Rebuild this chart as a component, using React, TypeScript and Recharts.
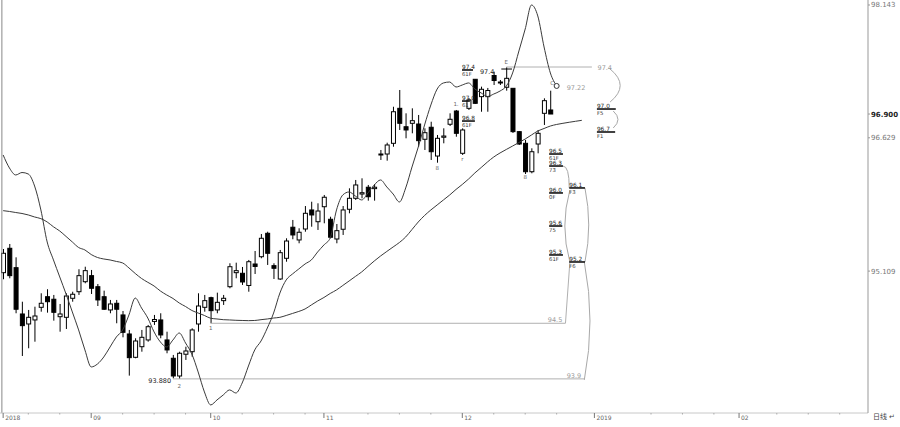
import React from "react";
import {
  ComposedChart,
  Bar,
  Line,
  XAxis,
  YAxis,
  ReferenceLine,
  ReferenceDot,
  ReferenceArea,
} from "recharts";

// daily bars, mid Aug 2018 to mid Dec 2018 (slot index = trading day)
const opens = [
  95.091, 95.369, 95.148, 94.62, 94.506, 94.552, 94.696, 94.817, 94.788, 94.589,
  94.582, 94.799, 94.874, 94.988, 95.057, 94.931, 94.817, 94.666, 94.742, 94.609,
  94.392, 94.126, 94.247, 94.324, 94.535, 94.552, 94.324, 94.115, 93.913, 94.161,
  94.19, 94.506, 94.696, 94.806, 94.666, 94.772, 94.931, 95.091, 95.084, 94.945,
  95.19, 95.273, 95.54, 95.171, 95.019, 95.255, 95.609, 95.464, 95.589, 95.806,
  95.672, 95.843, 95.7, 95.475, 95.586, 95.814, 95.939, 95.988, 96.065, 96.049,
  96.433, 96.444, 96.566, 96.965, 96.755, 96.794, 96.786, 96.612, 96.749, 96.421,
  96.635, 96.783, 96.934, 96.452, 96.965, 97.296, 97.098, 97.098, 97.339, 97.265,
  97.205, 97.193, 96.699, 96.566, 96.242, 96.558, 96.908, 96.946,
];
const highs = [
  95.361, 95.418, 95.266, 94.76, 94.666, 94.703, 94.856, 94.902, 94.837, 94.734,
  94.856, 94.874, 95.13, 95.159, 95.122, 94.962, 94.886, 94.78, 94.78, 94.654,
  94.438, 94.343, 94.438, 94.495, 94.609, 94.628, 94.418, 94.153, 94.19, 94.247,
  94.457, 94.856, 94.837, 94.817, 94.863, 94.837, 95.198, 95.205, 95.156, 95.236,
  95.338, 95.532, 95.558, 95.198, 95.35, 95.483, 95.692, 95.597, 95.851, 95.9,
  95.882, 95.977, 95.729, 95.646, 95.851, 96.053, 96.148, 96.167, 96.091, 96.102,
  96.49, 96.573, 96.983, 97.174, 96.908, 96.965, 96.889, 96.737, 96.812, 96.661,
  96.737, 96.908, 96.946, 96.737, 97.083, 97.299, 97.212, 97.197, 97.383, 97.288,
  97.433, 97.193, 96.706, 96.604, 96.509, 96.718, 97.079, 97.166,
];
const lows = [
  95.016, 95.027, 94.628, 94.141, 94.229, 94.304, 94.646, 94.635, 94.544, 94.418,
  94.449, 94.76, 94.837, 94.97, 94.848, 94.711, 94.666, 94.628, 94.514, 94.354,
  93.917, 94.115, 94.19, 94.304, 94.495, 94.343, 94.172, 93.885, 93.88, 94.096,
  94.133, 94.418, 94.646, 94.514, 94.628, 94.723, 94.913, 95.027, 94.951, 94.874,
  95.076, 95.255, 95.179, 95.019, 95.008, 95.216, 95.472, 95.426, 95.558, 95.615,
  95.578, 95.654, 95.483, 95.426, 95.521, 95.768, 95.92, 95.939, 95.912, 95.912,
  96.376, 96.368, 96.527, 96.718, 96.623, 96.68, 96.527, 96.49, 96.376, 96.345,
  96.566, 96.763, 96.641, 96.433, 96.946, 97.014, 96.926, 96.926, 97.231, 97.231,
  97.166, 96.684, 96.547, 96.216, 96.224, 96.452, 96.775, 96.9,
];
const closes = [
  95.312, 95.057, 94.674, 94.487, 94.582, 94.597, 94.742, 94.76, 94.639, 94.62,
  94.825, 94.845, 95.057, 95.114, 94.913, 94.78, 94.674, 94.734, 94.674, 94.411,
  94.122, 94.312, 94.354, 94.475, 94.557, 94.381, 94.21, 93.913, 94.172, 94.198,
  94.438, 94.711, 94.772, 94.658, 94.753, 94.799, 95.159, 95.114, 94.985, 95.216,
  95.162, 95.483, 95.312, 95.141, 95.319, 95.452, 95.521, 95.552, 95.768, 95.749,
  95.794, 95.951, 95.495, 95.57, 95.806, 95.939, 96.091, 96.003, 95.957, 96.065,
  96.444, 96.547, 96.926, 96.794, 96.718, 96.824, 96.596, 96.687, 96.47, 96.623,
  96.649, 96.84, 96.68, 96.718, 97.06, 97.022, 97.182, 97.168, 97.282, 97.254,
  97.307, 96.699, 96.558, 96.242, 96.47, 96.68, 97.052, 96.9,
];

// fast (displaced) average, ends in the projected slot
const fastLine = [
  96.433, 96.285, 96.205, 96.233, 96.216, 96.079, 95.806, 95.441, 95.236, 95.042,
  94.848, 94.643, 94.438, 94.21, 94.016, 94.05, 94.13, 94.244, 94.358, 94.438,
  94.609, 94.802, 94.688, 94.574, 94.415, 94.301, 94.244, 94.324, 94.403, 94.289,
  94.164, 93.959, 93.731, 93.583, 93.64, 93.697, 93.754, 93.719, 93.833, 94.027,
  94.21, 94.312, 94.46, 94.631, 94.859, 95.008, 95.076, 95.133, 95.19, 95.236,
  95.327, 95.407, 95.487, 95.806, 95.977, 96.011, 95.965, 95.92, 96.0, 96.091,
  96.148, 96.068, 95.988, 95.897, 96.057, 96.296, 96.524, 96.775, 97.003, 97.185,
  97.254, 97.265, 97.208, 97.231, 97.254, 97.185, 97.14, 97.1, 97.128, 97.162,
  97.219, 97.368, 97.619, 97.869, 98.143, 98.018, 97.664, 97.368, 97.22,
];
// slow moving average, shifted forward a few slots
const slowLine = [
  95.798, 95.789, 95.777, 95.766, 95.749, 95.726, 95.707, 95.669, 95.614, 95.566,
  95.504, 95.441, 95.378, 95.35, 95.298, 95.264, 95.247, 95.236, 95.219, 95.202,
  95.145, 95.082, 95.025, 94.981, 94.939, 94.882, 94.837, 94.797, 94.745, 94.705,
  94.66, 94.631, 94.603, 94.571, 94.563, 94.555, 94.552, 94.548, 94.546, 94.544,
  94.546, 94.555, 94.563, 94.574, 94.582, 94.603, 94.626, 94.649, 94.677, 94.723,
  94.768, 94.808, 94.854, 94.894, 94.945, 94.996, 95.048, 95.099, 95.162, 95.224,
  95.281, 95.333, 95.384, 95.435, 95.498, 95.583, 95.669, 95.743, 95.806, 95.863,
  95.92, 95.977, 96.04, 96.097, 96.159, 96.228, 96.29, 96.353, 96.41, 96.456,
  96.496, 96.535, 96.575, 96.615, 96.661, 96.706, 96.735, 96.763, 96.781, 96.794,
  96.806, 96.817, 96.828,
];

const SLOTS = 138;
const monthTickIdx = [0, 14, 33, 51, 73, 94, 117];
const monthLabels = ["2018", "09", "10", "11", "12", "2019", "02"];
const weekTickIdx = [4, 9, 19, 24, 29, 38, 43, 48, 58, 63, 68, 78, 83, 88, 103, 108, 113, 123, 128, 133];
const priceTicks = [95.109, 96.629, 96.9, 98.143];
const lastPrice = 96.9;

// gray support / resistance guides
const guides = [
  { from: 80, to: 93.6, price: 97.436 },
  { from: 33, to: 89.4, price: 94.514 },
  { from: 27, to: 92.4, price: 93.88 },
];
const guideLabels = [
  { text: "97.4", at: 94.5, price: 97.436, anchor: "start", dy: 2.5 },
  { text: "97.22", at: 89.6, price: 97.197, anchor: "start", dy: 2.5 },
  { text: "94.5", at: 88.9, price: 94.514, anchor: "end", dy: -1 },
  { text: "93.9", at: 91.9, price: 93.88, anchor: "end", dy: -1 },
];
// retracement tags: number over a thick rule, code under it
const fibTags = [
  { num: "97.4", code: "61F", from: 72.95, to: 74.7, price: 97.402 },
  { num: "97.0", code: "61", from: 72.95, to: 74.2, price: 97.048 },
  { num: "96.8", code: "61F", from: 72.95, to: 75.0, price: 96.82 },
  { num: "97.0", code: "F5", from: 94.4, to: 97.4, price: 96.957 },
  { num: "96.7", code: "F1", from: 94.4, to: 97.3, price: 96.695 },
  { num: "96.5", code: "61F", from: 86.8, to: 89.0, price: 96.444 },
  { num: "96.3", code: "73", from: 86.8, to: 89.0, price: 96.307 },
  { num: "96.0", code: "0F", from: 86.8, to: 89.0, price: 96.0 },
  { num: "95.6", code: "75", from: 86.8, to: 88.9, price: 95.623 },
  { num: "95.3", code: "61F", from: 86.8, to: 89.0, price: 95.293 },
  { num: "96.1", code: "F3", from: 90.0, to: 92.5, price: 96.057 },
  { num: "95.2", code: "F6", from: 90.0, to: 92.5, price: 95.213 },
];
const darkNotes = [
  { text: "97.4", at: 75.8, price: 97.38, anchor: "start" },
  { text: "93.880", at: 26.7, price: 93.865, anchor: "end" },
];
const smallMarks = [
  { text: "E", at: 80, price: 97.49 },
  { text: "C", at: 87.3, price: 97.25 },
  { text: "8", at: 83, price: 96.18 },
  { text: "r", at: 73, price: 96.39 },
  { text: "1.", at: 72, price: 97.01 },
  { text: "8", at: 69, price: 96.29 },
  { text: "1", at: 33, price: 94.46 },
  { text: "2", at: 28, price: 93.8 },
];
const brackets = [
  { x1: 96.5, x2: 98.1, lo: 97.037, hi: 97.413, kind: "R" },
  { x1: 97.0, x2: 97.75, lo: 96.741, hi: 96.934, kind: "R" },
  { x1: 89.0, x2: 90.0, lo: 96.057, hi: 96.307, kind: "D" },
  { x1: 89.3, x2: 90.1, lo: 95.213, hi: 96.034, kind: "L" },
  { x1: 92.5, x2: 93.1, lo: 95.213, hi: 96.057, kind: "R" },
  { x1: 92.4, x2: 93.3, lo: 93.868, hi: 95.213, kind: "R" },
];

const rows = Array.from({ length: SLOTS }, (_, i) => ({
  i,
  o: opens[i] ?? null,
  h: highs[i] ?? null,
  l: lows[i] ?? null,
  c: closes[i] ?? null,
  fast: fastLine[i] ?? null,
  slow: slowLine[i] ?? null,
}));

function Candle(props: any) {
  const { x, y, width, height, payload } = props;
  if (!payload || payload.h == null || !isFinite(y) || !isFinite(height)) return null;
  const { o, h, l, c } = payload;
  const top = Math.min(y, y + height);
  const bot = Math.max(y, y + height);
  const span = h - l || 1;
  const py = (v: number) => top + ((h - v) / span) * (bot - top);
  const cx = x + width / 2;
  const up = c >= o;
  const bTop = py(Math.max(o, c));
  const bBot = py(Math.min(o, c));
  return (
    <g>
      <line x1={cx} x2={cx} y1={top} y2={bot} stroke="#000" strokeWidth={1} />
      <rect
        x={x + 0.5}
        y={bTop}
        width={width - 1}
        height={Math.max(1, bBot - bTop)}
        fill={up ? "#fff" : "#000"}
        stroke="#000"
        strokeWidth={1}
      />
    </g>
  );
}

function XTick(props: any) {
  const { x, y, payload } = props;
  const k = monthTickIdx.indexOf(payload.value);
  if (k < 0) return <line x1={x} x2={x} y1={y} y2={y + 1.5} stroke="#aaa" />;
  return (
    <g>
      <line x1={x} x2={x} y1={y} y2={y + 5} stroke="#777" />
      <text x={x + 2} y={y + 7} fontSize={6} fill="#666">
        {monthLabels[k]}
      </text>
    </g>
  );
}

function YTick(props: any) {
  const { x, y, payload } = props;
  const cur = payload.value === lastPrice;
  return (
    <text x={x} y={y} dy={2.5} fontSize={7} fill={cur ? "#222" : "#777"} fontWeight={cur ? "bold" : "normal"}>
      {payload.value.toFixed(3)}
    </text>
  );
}

function bracketPath(kind: string, x: number, y: number, w: number, h: number) {
  if (kind === "L") return `M${x + w},${y} Q${x - w},${y + h / 2} ${x + w},${y + h}`;
  if (kind === "D") return `M${x},${y} Q${x + w},${y} ${x + w},${y + h}`;
  return `M${x},${y} Q${x + 2 * w},${y + h / 2} ${x},${y + h}`;
}

export default function App() {
  return (
    <div
      style={{
        position: "relative",
        width: 900,
        height: 427,
        background: "#fff",
        fontFamily: '"DejaVu Sans", sans-serif',
      }}
    >
      <style>{"body{margin:0}"}</style>
      <ComposedChart width={900} height={427} data={rows} margin={{ top: 0, right: 0, bottom: 0, left: 0 }}>
        <XAxis
          dataKey="i"
          type="number"
          domain={[-0.5, SLOTS - 0.5]}
          ticks={[...monthTickIdx, ...weekTickIdx].sort((a, b) => a - b)}
          interval={0}
          tick={<XTick />}
          tickLine={false}
          tickSize={0}
          tickMargin={0}
          axisLine={{ stroke: "#c8c8c8" }}
          height={14}
          allowDataOverflow
        />
        <YAxis
          orientation="right"
          type="number"
          domain={[93.491, 98.2]}
          ticks={priceTicks}
          interval={0}
          width={32}
          tick={<YTick />}
          tickSize={2}
          tickMargin={1}
          tickLine={{ stroke: "#999" }}
          axisLine={{ stroke: "#999" }}
          allowDataOverflow
        />
        <ReferenceLine x={-0.2} stroke="#888" />

        {guides.map((g, k) => (
          <ReferenceLine
            key={"g" + k}
            segment={[
              { x: g.from, y: g.price },
              { x: g.to, y: g.price },
            ]}
            stroke="#b0b0b0"
            ifOverflow="visible"
          />
        ))}
        <ReferenceLine
          segment={[
            { x: 90.1, y: 95.213 },
            { x: 89.4, y: 94.514 },
          ]}
          stroke="#b0b0b0"
          ifOverflow="visible"
        />
        {brackets.map((b, k) => (
          <ReferenceArea
            key={"b" + k}
            x1={b.x1}
            x2={b.x2}
            y1={b.lo}
            y2={b.hi}
            ifOverflow="visible"
            shape={(p: any) => (
              <path d={bracketPath(b.kind, p.x, p.y, p.width, p.height)} fill="none" stroke="#a8a8a8" strokeWidth={1} />
            )}
          />
        ))}

        <Bar
          dataKey={(d: any) => (d.h == null ? null : [d.l, d.h])}
          barSize={5}
          shape={<Candle />}
          isAnimationActive={false}
        />
        <Line
          dataKey="slow"
          type="monotone"
          stroke="#3a3a3a"
          strokeWidth={1}
          dot={false}
          activeDot={false}
          connectNulls
          isAnimationActive={false}
        />
        <Line
          dataKey="fast"
          type="monotone"
          stroke="#3a3a3a"
          strokeWidth={1}
          dot={false}
          activeDot={false}
          connectNulls
          isAnimationActive={false}
        />
        <ReferenceDot x={fastLine.length - 1} y={fastLine[fastLine.length - 1]} r={2.5} fill="#fff" stroke="#333" />
        <ReferenceLine
          segment={[
            { x: 79.2, y: 97.413 },
            { x: 80.9, y: 97.413 },
          ]}
          stroke="#000"
          ifOverflow="visible"
        />

        {fibTags.map((t, k) => (
          <ReferenceLine
            key={"fl" + k}
            segment={[
              { x: t.from, y: t.price },
              { x: t.to, y: t.price },
            ]}
            stroke="#111"
            strokeWidth={1.6}
            ifOverflow="visible"
          />
        ))}
        {fibTags.map((t, k) => (
          <ReferenceDot
            key={"ft" + k}
            x={t.from}
            y={t.price}
            r={1}
            ifOverflow="visible"
            shape={(p: any) => (
              <g>
                <text x={p.cx} y={p.cy - 1.2} fontSize={5.8} fill="#222">
                  {t.num}
                </text>
                <text x={p.cx} y={p.cy + 5.8} fontSize={5.3} fill="#333">
                  {t.code}
                </text>
              </g>
            )}
          />
        ))}
        {guideLabels.map((t, k) => (
          <ReferenceDot
            key={"gl" + k}
            x={t.at}
            y={t.price}
            r={1}
            ifOverflow="visible"
            shape={(p: any) => (
              <text x={p.cx} y={p.cy} dy={t.dy} fontSize={6.5} fill="#999" textAnchor={t.anchor}>
                {t.text}
              </text>
            )}
          />
        ))}
        {darkNotes.map((t, k) => (
          <ReferenceDot
            key={"dn" + k}
            x={t.at}
            y={t.price}
            r={1}
            ifOverflow="visible"
            shape={(p: any) => (
              <text x={p.cx} y={p.cy} dy={2.5} fontSize={6.5} fill="#222" textAnchor={t.anchor}>
                {t.text}
              </text>
            )}
          />
        ))}
        {smallMarks.map((t, k) => (
          <ReferenceDot
            key={"sm" + k}
            x={t.at}
            y={t.price}
            r={1}
            ifOverflow="visible"
            shape={(p: any) => (
              <text x={p.cx} y={p.cy} dy={2} fontSize={5.5} fill="#666" textAnchor="middle">
                {t.text}
              </text>
            )}
          />
        ))}
      </ComposedChart>
      <span
        style={{
          position: "absolute",
          left: 873,
          top: 412,
          fontSize: 7,
          color: "#444",
          fontFamily: '"Noto Sans CJK SC", sans-serif',
          lineHeight: "9px",
        }}
      >
        日线 ↵
      </span>
    </div>
  );
}
